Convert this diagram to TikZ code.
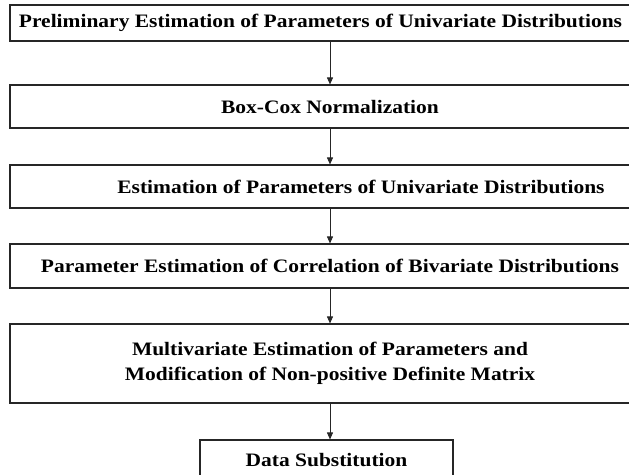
\documentclass[tikz,border=0pt]{standalone}
\usepackage{fontspec}
\setmainfont{Liberation Serif}[FakeStretch=1.13]
\usetikzlibrary{arrows.meta}

\begin{document}
\begin{tikzpicture}[x=1pt, y=-1pt,
    stage/.style={draw=black!85, line width=1.1pt, minimum width=640pt, inner sep=0pt, align=center, font=\bfseries\fontsize{19}{25.5}\selectfont},
    arr/.style={-{Triangle[length=7pt, width=6pt]}, line width=0.9pt, draw=black!85}
]
\useasboundingbox (0,0) rectangle (629,474);
\clip (0,0) rectangle (629,474);
\node[stage, minimum height=36pt] (pre) at (330,23) {Preliminary Estimation of Parameters of Univariate Distributions\hspace*{19pt}};
\node[stage, minimum height=43pt] (boxcox) at (330,106.5) {Box-Cox Normalization};
\node[stage, minimum height=43pt] (uni) at (330,186.5) {\hspace*{62pt}Estimation of Parameters of Univariate Distributions};
\node[stage, minimum height=44pt] (bi) at (330,266) {Parameter Estimation of Correlation of Bivariate Distributions};
\node[stage, minimum height=79pt] (multi) at (330,363.5) {Multivariate Estimation of Parameters and\\Modification of Non-positive Definite Matrix};
\node[stage, minimum width=253pt, minimum height=40pt] (subst) at (326.5,460) {Data Substitution};

\draw[arr] (pre) -- (boxcox);
\draw[arr] (boxcox) -- (uni);
\draw[arr] (uni) -- (bi);
\draw[arr] (bi) -- (multi);
\draw[arr] (multi.south) -- (multi.south |- subst.north);
\end{tikzpicture}
\end{document}
